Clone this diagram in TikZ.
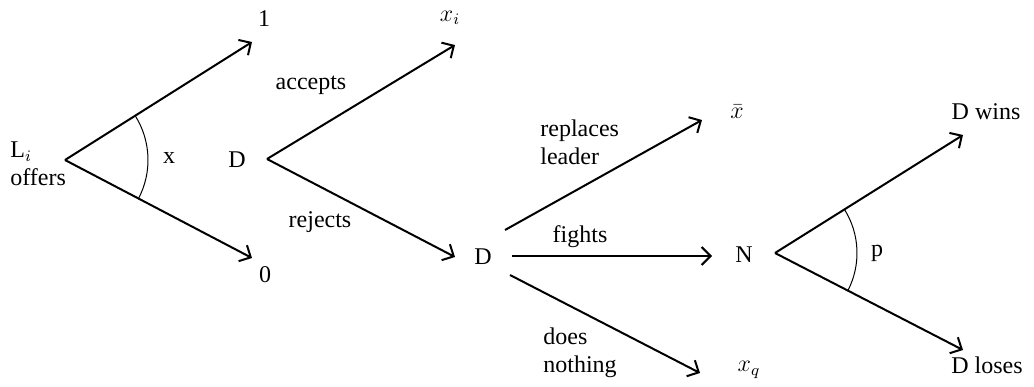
\documentclass[tikz,border=0pt]{standalone}
\usepackage{fontspec}
\setmainfont{Liberation Serif}
\usetikzlibrary{arrows.meta}

\begin{document}
\begin{tikzpicture}[
    x=0.5pt,
    y=-0.5pt,
    font=\fontsize{12}{14}\selectfont,
    every node/.style={inner sep=0pt},
    branch/.style={line width=1pt, -{Straight Barb[length=4.5pt,width=9pt]}},
    prob/.style={line width=0.5pt}
  ]
    \useasboundingbox (0,0) rectangle (1034,386);

    % Primer nodo: oferta del lider
    \node[anchor=west, align=left] (offer) at (10,164) {L$_i$\\offers};
    \coordinate (v0) at (65,160);
    \coordinate (t1) at (252,42);
    \coordinate (t0) at (252,258);
    \node (one) at (264,19) {1};
    \node (zero) at (265,275) {0};
    \draw[branch] (v0) -- (t1);
    \draw[branch] (v0) -- (t0);
    \draw[prob] ([shift={(-32.25:83)}]v0) arc[start angle=-32.25, end angle=27.66, radius=83];
    \node (xlab) at (169,158) {x};

    % --- D acepta o rechaza ---
    \node (D1) at (237,160) {D};
    \coordinate (v1) at (267,159);
    \coordinate (txi) at (455,45);
    \coordinate (tD2) at (455,257);
    \node (xi) at (450,18) {$x_i$};
    \draw[branch] (v1) -- (txi);
    \draw[branch] (v1) -- (tD2);
    \node (acc) at (311,85) {accepts};
    \node (rej) at (320,222) {rejects};

    % --- D tras rechazar ---
    \node (D2) at (483,257) {D};
    \coordinate (txbar) at (702,120);
    \coordinate (tN) at (712,256);
    \coordinate (txq) at (700,373);
    \node (xbar) at (737,112) {$\bar{x}$};
    \node (xq) at (749,370) {$x_q$};
    \draw[branch] ([shift={(22,-27)}]D2.center) -- (txbar);
    \draw[branch] ([shift={(29,-1)}]D2.center) -- (tN);
    \draw[branch] ([shift={(27,18)}]D2.center) -- (txq);
    \node[anchor=west, align=left] (repl) at (540,142) {replaces\\leader};
    \node (fight) at (580,237) {fights};
    \node[anchor=west, align=left] (nothing) at (543,353) {does\\nothing};

    % --- Naturaleza ---
    \node (N) at (744,255) {N};
    \coordinate (v2) at (775,253);
    \coordinate (twin) at (963,135);
    \coordinate (tlose) at (963,350);
    \draw[branch] (v2) -- (twin);
    \draw[branch] (v2) -- (tlose);
    \draw[prob] ([shift={(-32.1:82)}]v2) arc[start angle=-32.1, end angle=27.3, radius=82];
    \node (plab) at (877,253) {p};
    \node (win) at (986,112) {D wins};
    \node (lose) at (987,365) {D loses};
  \end{tikzpicture}
\end{document}
